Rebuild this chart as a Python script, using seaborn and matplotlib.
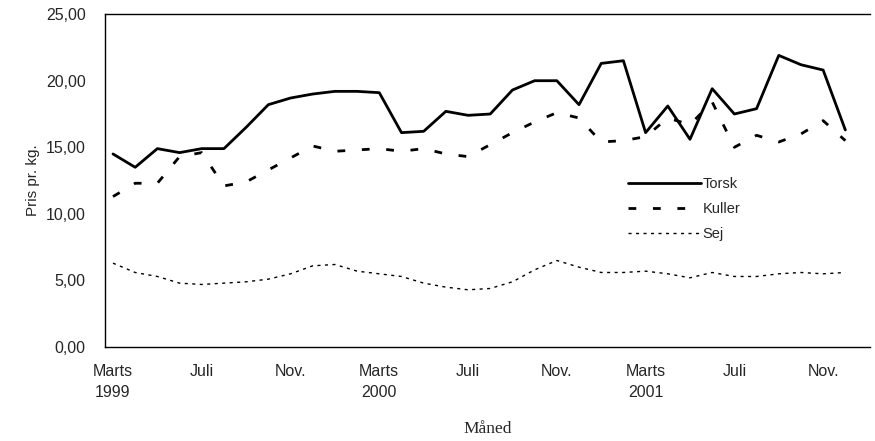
import numpy as np
import pandas as pd
import matplotlib
matplotlib.use('Agg')
import matplotlib.pyplot as plt
import seaborn as sns

#%% DATA

months = list(range(34))  # marts 1999 .. dec. 2001
tick_pos = [0, 4, 8, 12, 16, 20, 24, 28, 32]
tick_labels = ['Marts\n1999', 'Juli', 'Nov.', 'Marts\n2000', 'Juli', 'Nov.',
               'Marts\n2001', 'Juli', 'Nov.']

torsk = [14.5, 13.5, 14.9, 14.6, 14.9, 14.9, 16.5, 18.2, 18.7, 19.0, 19.2, 19.2,
         19.1, 16.1, 16.2, 17.7, 17.4, 17.5, 19.3, 20.0, 20.0, 18.2, 21.3, 21.5,
         16.1, 18.1, 15.6, 19.4, 17.5, 17.9, 21.9, 21.2, 20.8, 16.3]
kuller = [11.3, 12.3, 12.3, 14.3, 14.6, 12.1, 12.4, 13.3, 14.2, 15.1, 14.7, 14.8,
          14.9, 14.7, 14.9, 14.5, 14.3, 15.2, 16.1, 16.9, 17.6, 17.2, 15.4, 15.5,
          15.8, 17.2, 16.7, 18.4, 15.0, 15.9, 15.4, 16.0, 17.0, 15.5]
sej = [6.3, 5.6, 5.3, 4.8, 4.7, 4.8, 4.9, 5.1, 5.5, 6.1, 6.2, 5.7,
       5.5, 5.3, 4.8, 4.5, 4.3, 4.4, 4.9, 5.8, 6.5, 6.0, 5.6, 5.6,
       5.7, 5.5, 5.2, 5.6, 5.3, 5.3, 5.5, 5.6, 5.5, 5.6]

df = pd.DataFrame({'maaned': months * 3,
                   'pris': torsk + kuller + sej,
                   'art': ['Torsk'] * 34 + ['Kuller'] * 34 + ['Sej'] * 34})

#%% PLOT

sns.set_style('white')
plt.rcParams['font.family'] = ['Liberation Sans', 'DejaVu Sans']

fig = plt.figure(figsize=(8.75, 4.41), dpi=100)
ax = fig.add_axes([0.12, 0.213, 0.874, 0.755])

sns.lineplot(data=df, x='maaned', y='pris', hue='art', style='art',
             hue_order=['Torsk', 'Kuller', 'Sej'],
             palette=['black', 'black', 'black'],
             dashes={'Torsk': '', 'Kuller': (2.8, 6), 'Sej': (2.2, 3.2)},
             size='art', sizes={'Torsk': 2.0, 'Kuller': 2.0, 'Sej': 1.0},
             ax=ax)

ax.set_xlim(-0.36, 34.1)
ax.set_ylim(0, 25)
ax.set_yticks(np.arange(0, 25.01, 5))
ax.yaxis.set_major_formatter(plt.FuncFormatter(lambda v, p: ('%.2f' % v).replace('.', ',')))
ax.set_xticks(tick_pos)
ax.set_xticklabels(tick_labels, fontsize=11.5, linespacing=1.5)
ax.tick_params(axis='y', labelsize=11.5, pad=14)
ax.tick_params(length=0)
ax.tick_params(axis='x', pad=12)

for side in ['left', 'top', 'bottom']:
    ax.spines[side].set_color('black')
    ax.spines[side].set_linewidth(1.0)
ax.spines['right'].set_visible(False)

ax.set_ylabel('Pris pr. kg.', fontsize=11, labelpad=4)
ax.set_xlabel('Måned', fontsize=12.5, family=['Liberation Serif', 'DejaVu Serif'],
              labelpad=15)

leg = ax.legend(loc='upper left', bbox_to_anchor=(0.667, 0.55), frameon=False,
                fontsize=10.5, handlelength=5.0, handletextpad=0.1, labelspacing=0.75)
for line in leg.get_lines():
    line.set_color('black')

plt.savefig('out.png', dpi=100)
plt.close()
